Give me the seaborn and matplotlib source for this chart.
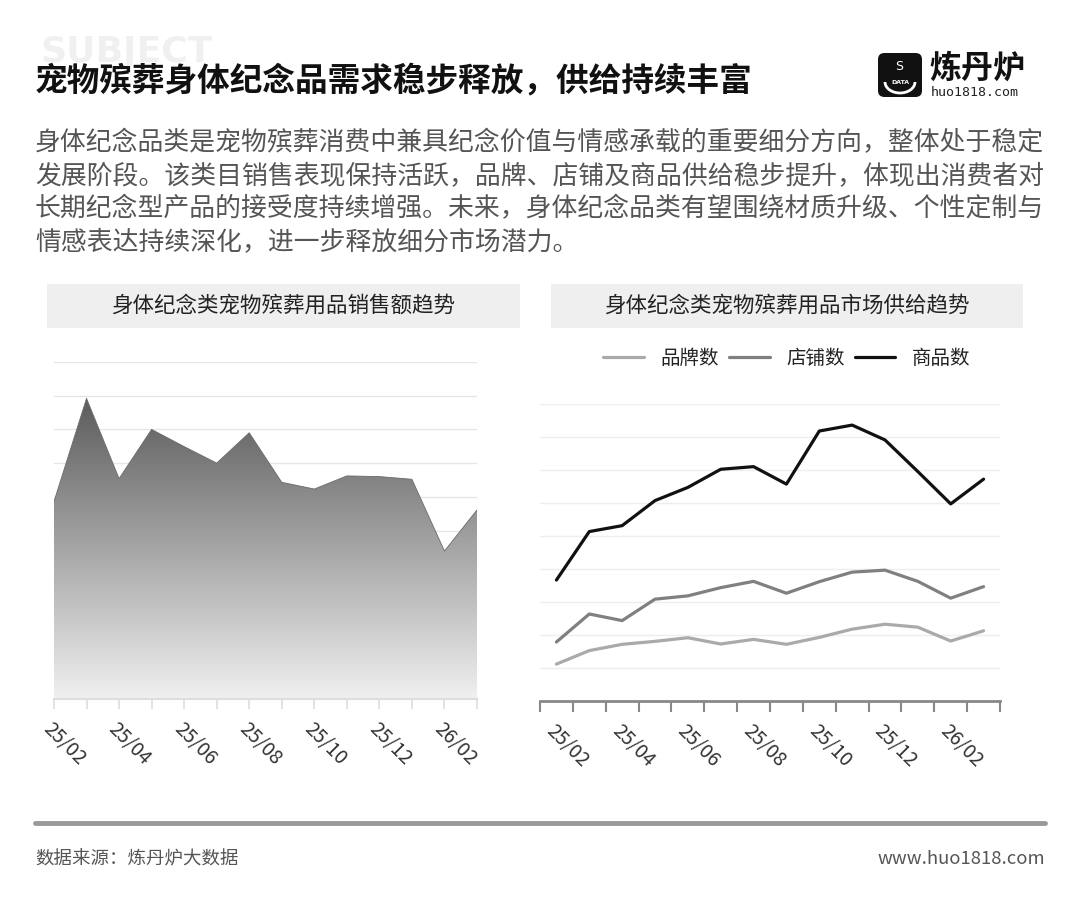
import numpy as np
import pandas as pd
import matplotlib
matplotlib.use("Agg")
import matplotlib.pyplot as plt
import seaborn as sns
from matplotlib.colors import LinearSegmentedColormap
from matplotlib.patches import Rectangle, FancyBboxPatch, Arc
from matplotlib.lines import Line2D

# ---- data (units are relative, no axis labels shown) ----
months = ["25/02", "25/03", "25/04", "25/05", "25/06", "25/07", "25/08",
          "25/09", "25/10", "25/11", "25/12", "26/01", "26/02", "26/03"]
sales = [5.86, 8.92, 6.54, 8.00, 7.49, 7.00, 7.90, 6.43, 6.23, 6.62, 6.60, 6.52, 4.39, 5.61]
brands = [1.11, 1.52, 1.71, 1.80, 1.91, 1.72, 1.86, 1.71, 1.92, 2.17, 2.32, 2.23, 1.81, 2.12]
shops = [1.78, 2.63, 2.43, 3.08, 3.18, 3.43, 3.62, 3.26, 3.61, 3.90, 3.96, 3.62, 3.11, 3.46]
goods = [3.66, 5.13, 5.31, 6.07, 6.47, 7.02, 7.10, 6.57, 8.18, 8.36, 7.91, 6.95, 5.97, 6.72]
series_names = ["品牌数", "店铺数", "商品数"]
series_colors = ["#aaaaaa", "#808080", "#111111"]

title = "宠物殡葬身体纪念品需求稳步释放，供给持续丰富"
desc_lines = [
    "身体纪念品类是宠物殡葬消费中兼具纪念价值与情感承载的重要细分方向，整体处于稳定",
    "发展阶段。该类目销售表现保持活跃，品牌、店铺及商品供给稳步提升，体现出消费者对",
    "长期纪念型产品的接受度持续增强。未来，身体纪念品类有望围绕材质升级、个性定制与",
    "情感表达持续深化，进一步释放细分市场潜力。",
]
left_title = "身体纪念类宠物殡葬用品销售额趋势"
right_title = "身体纪念类宠物殡葬用品市场供给趋势"

sns.set_theme(style="white")
plt.rcParams["font.family"] = ["Noto Sans CJK SC", "DejaVu Sans"]

W, H = 1080, 899
fig = plt.figure(figsize=(W / 100, H / 100), dpi=100)
fig.patch.set_facecolor("white")


def fx(x):
    return x / W


def fy(y):
    return 1 - y / H


# ---- header ----
# faint watermark word sitting behind the title
fig.text(fx(40), fy(52), "SUBJECT", fontsize=26, fontweight="bold", color="#f0f0f0",
         family="DejaVu Sans", va="center", ha="left", zorder=0)
fig.text(fx(35), fy(81), title, fontsize=23.5, fontweight="bold", color="#111111",
         va="center", ha="left", zorder=2)

# logo
logo = FancyBboxPatch((fx(878), fy(97)), fx(44), 44 / H,
                      boxstyle="round,pad=0,rounding_size=0.006", mutation_aspect=W / H,
                      transform=fig.transFigure, facecolor="#111111", edgecolor="none")
fig.patches.append(logo)
fig.patches.append(Arc((fx(900), fy(82)), fx(30), 22 / H, theta1=180, theta2=360,
                       transform=fig.transFigure, color="white", lw=2))
fig.text(fx(900), fy(82), "DATA", fontsize=4.5, color="white", fontweight="bold",
         ha="center", va="center", family="DejaVu Sans")
fig.text(fx(899), fy(66), "S", fontsize=9, color="white", ha="center", va="center",
         family="DejaVu Sans")
fig.text(fx(929), fy(69), "炼丹炉", fontsize=23, fontweight="bold", color="#111111",
         ha="left", va="center")
fig.text(fx(931), fy(92), "huo1818.com", fontsize=9.5, color="#222222", ha="left",
         va="center", family="DejaVu Sans Mono")

# description
for i, line in enumerate(desc_lines):
    fig.text(fx(35), fy(143 + i * 33), line, fontsize=18.6, color="#555555",
             ha="left", va="center")

# panel headers
for x0, x1, txt in [(47, 520, left_title), (551, 1023, right_title)]:
    fig.patches.append(Rectangle((fx(x0), fy(328)), fx(x1 - x0), 44 / H,
                                 transform=fig.transFigure, facecolor="#efefef",
                                 edgecolor="none"))
    fig.text(fx((x0 + x1) / 2), fy(306), txt, fontsize=15.5, color="#222222",
             ha="center", va="center")

# ---- left: gradient area chart ----
axL = fig.add_axes([fx(54), fy(699), fx(423), 337 / H])
df_sales = pd.DataFrame({"idx": np.arange(len(months)), "sales": sales})
sns.lineplot(data=df_sales, x="idx", y="sales", ax=axL, color="#6a6a6a", lw=0.6, zorder=3)
poly = axL.fill_between(df_sales["idx"], df_sales["sales"], 0, color="none", lw=0)
cmap = LinearSegmentedColormap.from_list("g", ["#f0f0f0", "#5a5a5a"])
grad = np.linspace(0, 1, 256).reshape(-1, 1)
im = axL.imshow(grad, extent=[0, 13, 0, 9.0], origin="lower", aspect="auto", cmap=cmap,
                zorder=2)
im.set_clip_path(poly.get_paths()[0], transform=axL.transData)
axL.set_xlim(0, 13)
axL.set_ylim(0, 10)
axL.set_yticks(np.arange(1, 11))
axL.yaxis.grid(True, color="#e6e6e6", lw=1)
axL.set_axisbelow(True)
axL.tick_params(axis="y", left=False, labelleft=False)
axL.set_xticks(np.arange(len(months)))
axL.set_xticklabels([m if i % 2 == 0 else "" for i, m in enumerate(months)])
axL.tick_params(axis="x", bottom=True, length=7, width=1.2, color="#dddddd",
                labelsize=14, labelcolor="#333333", pad=7)
for lab in axL.get_xticklabels():
    lab.set_rotation(-45)
    lab.set_ha("left")
    lab.set_va("top")
    lab.set_rotation_mode("anchor")
for s in ["top", "left", "right"]:
    axL.spines[s].set_visible(False)
axL.spines["bottom"].set_color("#dddddd")
axL.spines["bottom"].set_linewidth(1.5)
axL.set_xlabel("")
axL.set_ylabel("")

# ---- right: supply lines ----
axR = fig.add_axes([fx(540), fy(700.7), fx(460), 296.7 / H])
df_sup = pd.DataFrame({"idx": np.arange(len(months)), "品牌数": brands,
                       "店铺数": shops, "商品数": goods})
df_long = df_sup.melt(id_vars="idx", var_name="series", value_name="value")
sns.lineplot(data=df_long, x="idx", y="value", hue="series", hue_order=series_names,
             palette=series_colors, lw=2.3, ax=axR, zorder=3)
axR.set_xlim(-0.5, len(months) - 0.5)
axR.set_ylim(0, 9)
axR.set_yticks(np.arange(1, 10))
axR.yaxis.grid(True, color="#eeeeee", lw=1)
axR.set_axisbelow(True)
axR.tick_params(axis="y", left=False, labelleft=False)
axR.set_xticks(np.arange(-0.5, len(months)), minor=False)
axR.set_xticklabels([])
axR.tick_params(axis="x", which="major", bottom=True, length=8, width=1.5, color="#888888")
axR.set_xticks(np.arange(0, len(months), 2), minor=True)
axR.set_xticklabels([months[i] for i in range(0, len(months), 2)], minor=True)
axR.tick_params(axis="x", which="minor", bottom=False, labelsize=14,
                labelcolor="#333333", pad=10)
for lab in axR.get_xticklabels(minor=True):
    lab.set_rotation(-45)
    lab.set_ha("left")
    lab.set_va("top")
    lab.set_rotation_mode("anchor")
for s in ["top", "left", "right"]:
    axR.spines[s].set_visible(False)
axR.spines["bottom"].set_color("#888888")
axR.spines["bottom"].set_linewidth(2)
axR.set_xlabel("")
axR.set_ylabel("")
axR.legend(loc="center", bbox_to_anchor=((787 - 540) / 460, 1 + 46 / 296.7), ncol=3,
           frameon=False, handlelength=2.1, handletextpad=0.85, columnspacing=0.5,
           fontsize=14, labelcolor="#222222")

# ---- footer ----
fig.add_artist(Line2D([fx(35), fx(1045)], [fy(823), fy(823)], transform=fig.transFigure,
                      color="#999999", lw=3.5))
fig.text(fx(35), fy(859), "数据来源：炼丹炉大数据", fontsize=13.3, color="#555555",
         ha="left", va="center")
fig.text(fx(1045), fy(859), "www.huo1818.com", fontsize=13.3, color="#555555",
         ha="right", va="center")

fig.savefig("out.png", dpi=100)
